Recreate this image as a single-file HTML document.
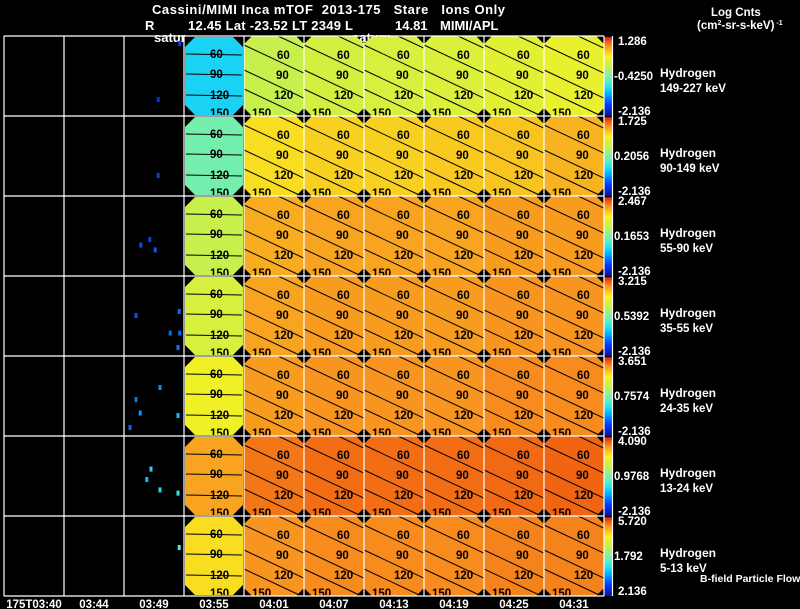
<!DOCTYPE html>
<html><head><meta charset="utf-8"><style>
html,body{margin:0;padding:0;background:#000;width:800px;height:609px;overflow:hidden}
svg{display:block}
text{font-family:"Liberation Sans",sans-serif;font-weight:bold}
</style></head><body>
<svg id="chart" width="800" height="609" viewBox="0 0 800 609" xmlns="http://www.w3.org/2000/svg">
<g fill="#fff" font-size="13">
<text x="152" y="14" xml:space="preserve" textLength="353" lengthAdjust="spacing">Cassini/MIMI Inca mTOF  2013-175   Stare   Ions Only</text>
<text x="145" y="30">R</text>
<text x="188" y="30" textLength="165" lengthAdjust="spacing">12.45 Lat -23.52 LT 2349 L</text>
<text x="395" y="30">14.81</text>
<text x="440" y="30">MIMI/APL</text>
<text x="154" y="42">satur</text>
<text x="352" y="42">saturn</text>
<text x="711" y="16" font-size="11.5">Log Cnts</text>
<text x="697" y="29" font-size="11.5">(cm<tspan font-size="7" dy="-4">2</tspan><tspan dy="4">-sr-s-keV)</tspan><tspan font-size="7" dy="-4"> -1</tspan></text>
<text x="700" y="582" font-size="10.5">B-field Particle Flow</text>
</g>
<g id="plot"></g>
</svg>
<script>
const timeLabels=["175T03:40","03:44","03:49","03:55","04:01","04:07","04:13","04:19","04:25","04:31"];
const species=["Hydrogen","Hydrogen","Hydrogen","Hydrogen","Hydrogen","Hydrogen","Hydrogen"];
const energies=["149-227 keV","90-149 keV","55-90 keV","35-55 keV","24-35 keV","13-24 keV","5-13 keV"];
const cbarMax=["1.286","1.725","2.467","3.215","3.651","4.090","5.720"];
const cbarMid=["-0.4250","0.2056","0.1653","0.5392","0.7574","0.9768","1.792"];
const cbarMin=["-2.136","-2.136","-2.136","-2.136","-2.136","-2.136","2.136"];
// normalized intensity (0..1 on colormap) per row for image columns 3..9
const row1=[0.34,0.63,0.65,0.66,0.67,0.69,0.71];
const row2=[0.48,0.78,0.80,0.80,0.81,0.82,0.84];
const row3=[0.63,0.85,0.86,0.86,0.86,0.87,0.87];
const row4=[0.66,0.86,0.87,0.87,0.87,0.88,0.88];
const row5=[0.73,0.87,0.88,0.88,0.88,0.89,0.89];
const row6=[0.86,0.915,0.925,0.925,0.925,0.93,0.935];
const row7=[0.78,0.88,0.89,0.89,0.89,0.90,0.90];
const rows=[row1,row2,row3,row4,row5,row6,row7];
// sparse detections: row, column position, vertical position (0..1), intensity
const dotRow=[0,0,1,2,2,2,3,3,3,3,3,4,4,4,4,4,5,5,5,5,6];
const dotCol=[2.57,2.93,2.57,2.43,2.52,2.28,2.2,2.77,2.93,2.9,2.92,2.2,2.27,2.1,2.6,2.9,2.45,2.38,2.6,2.9,2.92];
const dotPos=[0.8,0.1,0.75,0.55,0.68,0.62,0.5,0.72,0.72,0.9,0.45,0.55,0.72,0.9,0.4,0.75,0.42,0.55,0.68,0.72,0.4];
const dotVal=[0.1,0.15,0.15,0.15,0.18,0.16,0.18,0.2,0.2,0.22,0.2,0.22,0.25,0.2,0.25,0.3,0.35,0.3,0.35,0.38,0.42];

const X0=4,CW=60,Y0=36,RH=80,NC=10;
const colX=c=>X0+c*CW;
const rowY=r=>Y0+r*RH;
const stops=[[0,[16,16,160]],[0.15,[0,64,255]],[0.3,[0,192,255]],[0.4,[64,236,224]],[0.55,[160,240,128]],[0.65,[210,240,64]],[0.75,[248,240,32]],[0.82,[248,196,32]],[0.88,[248,148,32]],[0.94,[240,96,16]],[1,[224,16,16]]];
function cmap(v){v=Math.max(0,Math.min(1,v));for(let i=1;i<stops.length;i++){if(v<=stops[i][0]){const a=stops[i-1],b=stops[i],t=(v-a[0])/(b[0]-a[0]);return 'rgb('+a[1].map((x,k)=>Math.round(x+(b[1][k]-x)*t)).join(',')+')';}}return 'rgb(224,16,16)';}
const NS='http://www.w3.org/2000/svg';
const plot=document.getElementById('plot');
function mk(tag,attrs,parent){const e=document.createElementNS(NS,tag);for(const k in attrs)e.setAttribute(k,attrs[k]);(parent||plot).appendChild(e);return e;}
const defs=mk('defs',{});
const g=mk('linearGradient',{id:'cb',x1:0,y1:1,x2:0,y2:0},defs);
stops.forEach(s=>mk('stop',{offset:s[0],'stop-color':cmap(s[0])},g));
function oct(x,y,w,h,c){return `${x+c},${y} ${x+w-c},${y} ${x+w},${y+c} ${x+w},${y+h-c} ${x+w-c},${y+h} ${x+c},${y+h} ${x},${y+h-c} ${x},${y+c}`;}
for(let r=0;r<rows.length;r++){
 const y=rowY(r);
 for(let c=3;c<NC;c++){
  const x=colX(c),v=rows[r][c-3];
  const p=c===3?mk('polygon',{points:oct(x+1,y+1,CW-2,RH-2,10),fill:cmap(v)}):mk('polygon',{points:oct(x,y,CW,RH,8),fill:cmap(v)});
  
  
  const lg=mk('g',{stroke:'#000','stroke-width':1,fill:'none'});
  
  
  if(c===3){[18,38,59].forEach(o=>mk('line',{x1:x+2,y1:y+o,x2:x+CW-2,y2:y+o+1},lg));}
  else{[-16,9,34,53].forEach(o=>{let x1=x,y1=y+o,x2=x+CW,y2=y+o+0.47*CW;if(y1<y){x1=x+(y-y1)/0.47;y1=y;}if(y2>y+RH){x2=x+(y+RH-(y+o))/0.47;y2=y+RH;}mk('line',{x1:x1,y1:y1,x2:x2,y2:y2},lg);});}
  const labs=c===3?[[26,22,'60'],[26,42,'90'],[26,63,'120'],[26,81,'150']]:[[33,23,'60'],[32,43,'90'],[30,63,'120'],[8,81,'150']];
  labs.forEach(l=>{const t=mk('text',{x:x+l[0],y:y+l[1],'font-size':11.5,fill:'#000'});t.textContent=l[2];});
 }
 const cb=mk('rect',{x:604,y:y+1,width:8,height:RH-1,fill:'url(#cb)'});
 
 
 [[cbarMax[r],y+9,'cbar-max'],[cbarMid[r],y+RH/2+4,'cbar-mid'],[cbarMin[r],y+RH-1,'cbar-min']].forEach(a=>{const t=mk('text',{x:a[2]==='cbar-mid'?614:618,y:a[1],'font-size':11.5,fill:'#fff'});t.textContent=a[0];});
 const t1=mk('text',{x:660,y:y+41,'font-size':12,fill:'#fff'});t1.textContent=species[r];
 
 
 const t2=mk('text',{x:660,y:y+56,'font-size':11.5,fill:'#fff'});t2.textContent=energies[r];
 
 
}
for(let i=0;i<dotRow.length;i++){
 const d=mk('rect',{x:colX(dotCol[i])-1.5,y:rowY(dotRow[i])+dotPos[i]*RH-3,width:3,height:5,fill:cmap(dotVal[i])});
 
 
}
const grid=mk('g',{stroke:'#fff','stroke-width':1.2,fill:'none'});


for(let c=0;c<=NC;c++)mk('line',{x1:colX(c),y1:Y0,x2:colX(c),y2:rowY(7)},grid);
for(let r=0;r<=7;r++)mk('line',{x1:X0,y1:rowY(r),x2:colX(NC),y2:rowY(r)},grid);
mk('line',{x1:612.5,y1:Y0,x2:612.5,y2:rowY(7)},grid);
timeLabels.forEach((l,i)=>{const t=mk('text',{x:colX(i)+CW/2,y:608,'font-size':11.5,fill:'#fff','text-anchor':'middle'});t.textContent=l;});
</script>
</body></html>
